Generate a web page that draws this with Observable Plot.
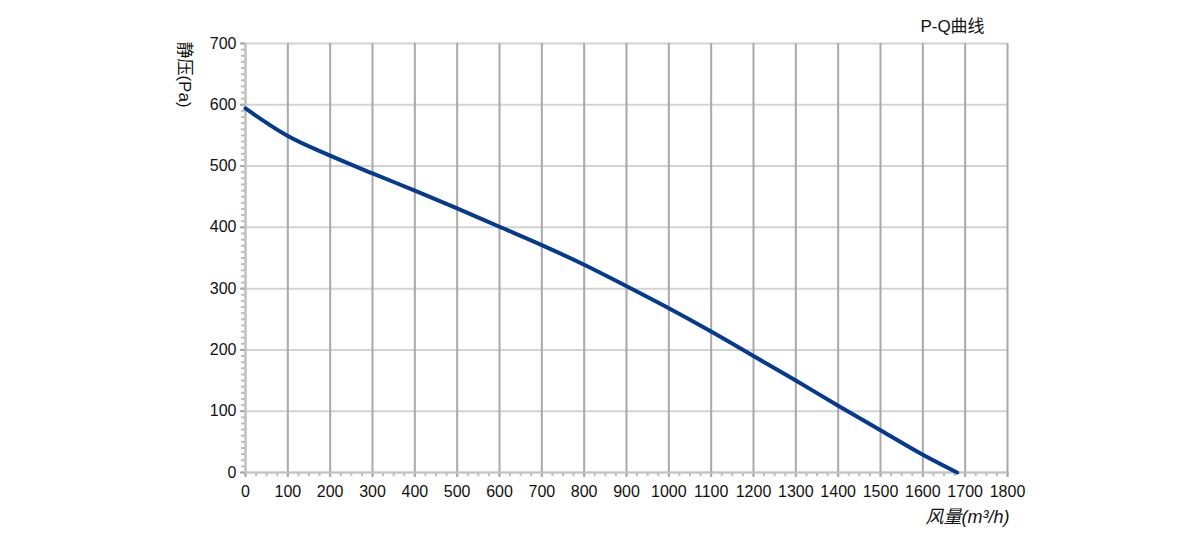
<!DOCTYPE html>
<html>
<head>
<meta charset="utf-8">
<script src="https://cdn.jsdelivr.net/npm/d3@7"></script>
<script src="https://cdn.jsdelivr.net/npm/@observablehq/plot@0.6"></script>
<style>
  html, body { margin: 0; padding: 0; background: #fff; }
  #chart svg { display: block; }
</style>
</head>
<body>
<div id="chart"></div>
<script>
const flow = [0, 100, 200, 300, 400, 500, 600, 700, 800, 900, 1000, 1100, 1200, 1300, 1400, 1500, 1600, 1681];
const pressure = [594, 549, 517, 488, 460, 431, 401, 371, 339, 304, 268, 230, 190, 150, 109, 69, 29, 0];
const xTicks = [0, 100, 200, 300, 400, 500, 600, 700, 800, 900, 1000, 1100, 1200, 1300, 1400, 1500, 1600, 1700, 1800];
const yTicks = [0, 100, 200, 300, 400, 500, 600, 700];
const titleText = "P-Q曲线";
const xLabel = "风量(m³/h)";
const yLabel = "静压(Pa)";

const data = flow.map((q, i) => ({q, p: pressure[i]}));
const xMinor = d3.range(0, 1801, 25);
const yMinor = d3.range(0, 701, 10);
const font = "'Liberation Sans', Arial, 'Noto Sans CJK SC', sans-serif";

const chart = Plot.plot({
  width: 1200,
  height: 536,
  marginLeft: 245,
  marginRight: 193,
  marginTop: 43,
  marginBottom: 64,
  style: {fontFamily: font, fontSize: "16px", color: "#111", background: "#fff"},
  x: {domain: [0, 1800]},
  y: {domain: [0, 700]},
  marks: [
    Plot.gridY(yTicks, {stroke: "#d3d3d3", strokeOpacity: 1, strokeWidth: 2}),
    Plot.gridX(xTicks, {stroke: "#a9a9a9", strokeOpacity: 1, strokeWidth: 2}),
    Plot.axisX(xMinor, {tickSize: 4, stroke: "#bdbdbd", strokeWidth: 2, tickFormat: () => "", label: null}),
    Plot.axisY(yMinor, {tickSize: 4, stroke: "#bdbdbd", strokeWidth: 2, tickFormat: () => "", label: null}),
    Plot.axisX(xTicks, {tickSize: 5, tickPadding: 8, stroke: "#a9a9a9", strokeWidth: 2, fill: "#111", fontSize: 16, tickFormat: d => String(d), label: null}),
    Plot.axisY(yTicks, {tickSize: 5, tickPadding: 4, stroke: "#a9a9a9", strokeWidth: 2, fill: "#111", fontSize: 16, tickFormat: d => String(d), label: null}),
    Plot.ruleX([0], {stroke: "#c4c4c4", strokeWidth: 2}),
    Plot.ruleY([0], {stroke: "#c4c4c4", strokeWidth: 2}),
    Plot.line(data, {x: "q", y: "p", stroke: "#053a8e", strokeWidth: 4, curve: "monotone-x"}),
    Plot.text([titleText], {frameAnchor: "top-right", dx: -55, dy: -24, textAnchor: "middle", fontSize: 17, fill: "#111"}),
    Plot.text([yLabel], {frameAnchor: "top-left", dx: -54, dy: 31, rotate: 90, textAnchor: "middle", fontSize: 17, fill: "#111"}),
    Plot.text([xLabel], {frameAnchor: "bottom-right", dx: -40, dy: 50, textAnchor: "middle", fontSize: 18, fontStyle: "italic", fill: "#111"})
  ]
});
document.getElementById("chart").appendChild(chart);
</script>
</body>
</html>
